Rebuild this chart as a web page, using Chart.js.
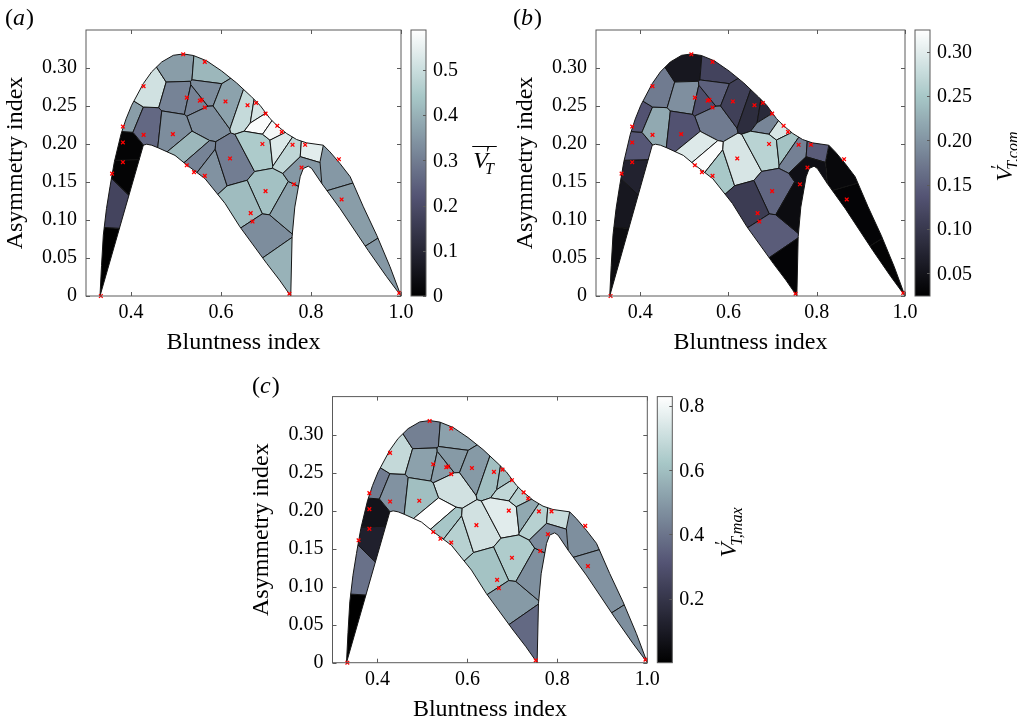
<!DOCTYPE html>
<html>
<head>
<meta charset="utf-8">
<script src="https://cdn.jsdelivr.net/npm/chart.js@4.4.0/dist/chart.umd.min.js"></script>
<style>
  body { margin: 0; background: #fff; }
  #page { position: relative; width: 1017px; height: 723px; overflow: hidden; }
  canvas { position: absolute; }
</style>
</head>
<body>
<div id="page">
  <canvas id="chartA" width="505" height="365" style="left:0px;top:0px"></canvas>
  <canvas id="chartB" width="512" height="365" style="left:505px;top:0px"></canvas>
  <canvas id="chartC" width="520" height="358" style="left:240px;top:365px"></canvas>
</div>
<script>
// red x markers (bluntness, asymmetry)
const seedX = [0.333, 0.358, 0.382, 0.382, 0.382, 0.428, 0.428, 0.493, 0.516, 0.524, 0.564, 0.553, 0.557, 0.564,
  0.524, 0.540, 0.564, 0.610, 0.620, 0.659, 0.678, 0.699, 0.725, 0.735, 0.692, 0.759, 0.787, 0.779, 0.762, 0.699,
  0.666, 0.670, 0.752, 0.862, 0.868, 0.996];
const seedY = [0.000, 0.161, 0.223, 0.202, 0.176, 0.276, 0.212, 0.213, 0.318, 0.261, 0.308, 0.257, 0.258, 0.248,
  0.172, 0.163, 0.158, 0.256, 0.181, 0.251, 0.254, 0.240, 0.224, 0.216, 0.200, 0.199, 0.199, 0.169, 0.147, 0.138,
  0.109, 0.098, 0.003, 0.180, 0.127, 0.004];

// cell centres, 0 = main body, 1 = right lobe
const cellX = [0.343, 0.352, 0.390, 0.388, 0.392, 0.433, 0.437, 0.505, 0.570, 0.507, 0.546, 0.563, 0.566, 0.495,
  0.530, 0.549, 0.575, 0.622, 0.615, 0.659, 0.680, 0.695, 0.686, 0.717, 0.734, 0.754, 0.800, 0.705, 0.649, 0.693,
  0.750, 0.790, 0.740, 0.855, 0.890, 0.975];
const cellY = [0.045, 0.135, 0.158, 0.200, 0.232, 0.222, 0.275, 0.301, 0.298, 0.263, 0.258, 0.266, 0.233, 0.218,
  0.193, 0.180, 0.168, 0.177, 0.254, 0.245, 0.243, 0.229, 0.197, 0.220, 0.200, 0.192, 0.190, 0.135, 0.120, 0.080,
  0.120, 0.170, 0.040, 0.180, 0.110, 0.030];
const cellSide = [0,0,0,0,0,0,0,0,0,0,0,0,0,0,0,0,0,0,0,0,0,0,0,0,0,0,0,0,0,0,0,0,0,1,1,1];

// cell values for each panel
const valuesA = [0.00, 0.18, 0.01, 0.01, 0.36, 0.26, 0.51, 0.36, 0.41, 0.31, 0.31, 0.33, 0.33, 0.33,
  0.41, 0.31, 0.34, 0.30, 0.37, 0.49, 0.52, 0.58, 0.45, 0.57, 0.53, 0.48, 0.54, 0.43, 0.42, 0.33,
  0.37, 0.35, 0.40, 0.35, 0.36, 0.35];
const valuesB = [0.040, 0.055, 0.070, 0.140, 0.135, 0.220, 0.175, 0.055, 0.115, 0.195, 0.130, 0.150, 0.175, 0.135,
  0.295, 0.320, 0.250, 0.290, 0.110, 0.085, 0.080, 0.185, 0.265, 0.290, 0.245, 0.180, 0.145, 0.155, 0.105, 0.145,
  0.040, 0.045, 0.030, 0.035, 0.030, 0.028];
const valuesC = [0.00, 0.39, 0.12, 0.07, 0.42, 0.48, 0.69, 0.43, 0.52, 0.52, 0.51, 0.50, 0.72, 0.60,
  null, 0.62, 0.66, 0.72, 0.50, 0.60, 0.59, 0.68, 0.76, 0.66, 0.54, 0.66, 0.70, 0.64, 0.61, 0.50,
  0.47, 0.46, 0.37, 0.47, 0.48, 0.47];

const rangeA = [0, 0.588];
const rangeB = [0.0245, 0.3245];
const rangeC = [0, 0.83];
const cbTicksA = [0, 0.1, 0.2, 0.3, 0.4, 0.5];
const cbLabelsA = ['0', '0.1', '0.2', '0.3', '0.4', '0.5'];
const cbTicksB = [0.05, 0.10, 0.15, 0.20, 0.25, 0.30];
const cbLabelsB = ['0.05', '0.10', '0.15', '0.20', '0.25', '0.30'];
const cbTicksC = [0.2, 0.4, 0.6, 0.8];
const cbLabelsC = ['0.2', '0.4', '0.6', '0.8'];

const xTicks = [0.4, 0.6, 0.8, 1.0];
const xTickLabels = ['0.4', '0.6', '0.8', '1.0'];
const yTicks = [0, 0.05, 0.10, 0.15, 0.20, 0.25, 0.30];
const yTickLabels = ['0', '0.05', '0.10', '0.15', '0.20', '0.25', '0.30'];

// domain outline
const outerLeftX = [0.3311, 0.3345, 0.3385, 0.3455, 0.3533, 0.363, 0.3778, 0.389, 0.4015, 0.4274, 0.446, 0.4682,
  0.494, 0.5163, 0.5385, 0.568, 0.6014, 0.6348, 0.6681, 0.6866, 0.7088, 0.7237, 0.7459, 0.7681, 0.7903, 0.8274];
const outerLeftY = [0, 0.04, 0.0801, 0.115, 0.1437, 0.1765, 0.2129, 0.233, 0.251, 0.2795, 0.295, 0.3079,
  0.3167, 0.3185, 0.3165, 0.3095, 0.2961, 0.2803, 0.2619, 0.251, 0.2335, 0.2247, 0.2138, 0.2059, 0.2015, 0.1984];
const outerRightX = [0.8422, 0.8644, 0.887, 0.9163, 0.946, 0.9756, 1.0];
const outerRightY = [0.1896, 0.1743, 0.157, 0.1174, 0.080, 0.0385, 0];
const lobeInnerX = [0.968, 0.927, 0.8644, 0.824];
const lobeInnerY = [0.0254, 0.060, 0.1152, 0.148];
const dividerX = [0.82];
const dividerY = [0.1765];
const notchX = [0.8015, 0.794, 0.7829, 0.776, 0.764, 0.758, 0.755];
const notchY = [0.1678, 0.1708, 0.1678, 0.157, 0.117, 0.078, 0];
const archX = [0.73, 0.7014, 0.642, 0.609, 0.5644, 0.5237, 0.4978, 0.4607, 0.446, 0.4348, 0.4274];
const archY = [0.021, 0.043, 0.091, 0.1218, 0.1545, 0.1725, 0.185, 0.1949, 0.1984, 0.1997, 0.1984];

const mainPolyX = [...outerLeftX, ...dividerX, lobeInnerX[3], ...notchX, ...archX];
const mainPolyY = [...outerLeftY, ...dividerY, lobeInnerY[3], ...notchY, ...archY];
const lobePolyX = [outerLeftX[outerLeftX.length - 1], ...outerRightX, ...lobeInnerX, ...dividerX];
const lobePolyY = [outerLeftY[outerLeftY.length - 1], ...outerRightY, ...lobeInnerY, ...dividerY];
const fullPolyX = [...outerLeftX, ...outerRightX, ...lobeInnerX, ...notchX, ...archX];
const fullPolyY = [...outerLeftY, ...outerRightY, ...lobeInnerY, ...notchY, ...archY];

const SERIF = '"Liberation Serif", "Times New Roman", serif';
const FRAME = '#5a5a5a';

function bone(t) {
  t = Math.max(0, Math.min(1, t));
  const hr = Math.min(1, t / 0.375);
  const hg = Math.max(0, Math.min(1, (t - 0.375) / 0.375));
  const hb = Math.max(0, Math.min(1, (t - 0.75) / 0.25));
  const r = (7 * t + hb) / 8, g = (7 * t + hg) / 8, b = (7 * t + hr) / 8;
  return 'rgb(' + Math.round(r * 255) + ',' + Math.round(g * 255) + ',' + Math.round(b * 255) + ')';
}

// keep the part of poly where a*x + b*y <= c
function clipHalf(poly, a, b, c) {
  const out = [];
  for (let i = 0; i < poly.length; i++) {
    const p = poly[i], q = poly[(i + 1) % poly.length];
    const fp = a * p[0] + b * p[1] - c, fq = a * q[0] + b * q[1] - c;
    if (fp <= 0) out.push(p);
    if ((fp < 0 && fq > 0) || (fp > 0 && fq < 0)) {
      const t = fp / (fp - fq);
      out.push([p[0] + t * (q[0] - p[0]), p[1] + t * (q[1] - p[1])]);
    }
  }
  return out;
}

const panels = {
  chartA: { area: {l: 86, t: 30, r: 401, b: 296}, W: 505, H: 365, values: valuesA, range: rangeA,
    cbTicks: cbTicksA, cbLabels: cbLabelsA, tag: 'a', tagX: 5, tagY: 19, yPad: 4, xPad: 10,
    cbTitle: {kind: 'bar', dx: 84, cy: 160} },
  chartB: { area: {l: 91, t: 30, r: 400, b: 296}, W: 512, H: 365, values: valuesB, range: rangeB,
    cbTicks: cbTicksB, cbLabels: cbLabelsB, tag: 'b', tagX: 8, tagY: 19, yPad: 9, xPad: 10,
    cbTitle: {kind: 'rot', sub: 'T,com', dx: 99, cy: 155} },
  chartC: { area: {l: 92.5, t: 31.6, r: 407.3, b: 297.7}, W: 520, H: 358, values: valuesC, range: rangeC,
    cbTicks: cbTicksC, cbLabels: cbLabelsC, tag: 'c', tagX: 12, tagY: 22, yPad: 10, xPad: 1,
    cbTitle: {kind: 'rot', sub: 'T,max', dx: 81, cy: 166} }
};

const cellPlugin = {
  id: 'cells',
  beforeDatasetsDraw(chart) {
    const p = panels[chart.canvas.id];
    const {ctx, chartArea: ca} = chart;
    const xs = chart.scales.x, ys = chart.scales.y;
    const tracePath = (px, py) => {
      ctx.beginPath();
      px.forEach((v, k) => {
        const X = xs.getPixelForValue(v), Y = ys.getPixelForValue(py[k]);
        if (k) ctx.lineTo(X, Y); else ctx.moveTo(X, Y);
      });
      ctx.closePath();
    };
    const gen = cellX.map((v, i) => [xs.getPixelForValue(v), ys.getPixelForValue(cellY[i])]);
    [[mainPolyX, mainPolyY], [lobePolyX, lobePolyY]].forEach(([rx, ry], side) => {
      ctx.save();
      tracePath(rx, ry);
      ctx.clip();
      gen.forEach((gi, i) => {
        if (cellSide[i] !== side) return;
        let poly = [[ca.left, ca.top], [ca.right, ca.top], [ca.right, ca.bottom], [ca.left, ca.bottom]];
        gen.forEach((gj, j) => {
          if (j === i || cellSide[j] !== side) return;
          const a = gj[0] - gi[0], b = gj[1] - gi[1];
          const c = (gj[0] * gj[0] + gj[1] * gj[1] - gi[0] * gi[0] - gi[1] * gi[1]) / 2;
          poly = clipHalf(poly, a, b, c);
        });
        if (poly.length < 3) return;
        const v = p.values[i];
        ctx.beginPath();
        poly.forEach((pt, k) => k ? ctx.lineTo(pt[0], pt[1]) : ctx.moveTo(pt[0], pt[1]));
        ctx.closePath();
        ctx.fillStyle = v === null ? '#ffffff' : bone((v - p.range[0]) / (p.range[1] - p.range[0]));
        ctx.fill();
        ctx.lineWidth = 1;
        ctx.strokeStyle = '#151515';
        ctx.stroke();
      });
      ctx.restore();
    });
    // outline and divider
    ctx.save();
    ctx.lineWidth = 1;
    ctx.strokeStyle = '#151515';
    tracePath(fullPolyX, fullPolyY);
    ctx.stroke();
    ctx.beginPath();
    ctx.moveTo(xs.getPixelForValue(outerLeftX[outerLeftX.length - 1]), ys.getPixelForValue(outerLeftY[outerLeftY.length - 1]));
    ctx.lineTo(xs.getPixelForValue(dividerX[0]), ys.getPixelForValue(dividerY[0]));
    ctx.lineTo(xs.getPixelForValue(lobeInnerX[3]), ys.getPixelForValue(lobeInnerY[3]));
    ctx.stroke();
    ctx.restore();
  },
  afterDraw(chart) {
    const p = panels[chart.canvas.id];
    const {ctx, chartArea: ca} = chart;
    const xs = chart.scales.x, ys = chart.scales.y;
    ctx.save();
    // box with inward ticks
    ctx.strokeStyle = FRAME;
    ctx.lineWidth = 1;
    ctx.strokeRect(ca.left, ca.top, ca.right - ca.left, ca.bottom - ca.top);
    ctx.beginPath();
    xTicks.forEach(v => {
      const X = Math.round(xs.getPixelForValue(v)) + 0.5;
      ctx.moveTo(X, ca.bottom); ctx.lineTo(X, ca.bottom - 4);
      ctx.moveTo(X, ca.top); ctx.lineTo(X, ca.top + 4);
    });
    yTicks.forEach(v => {
      const Y = Math.round(ys.getPixelForValue(v)) + 0.5;
      ctx.moveTo(ca.left, Y); ctx.lineTo(ca.left + 4, Y);
      ctx.moveTo(ca.right, Y); ctx.lineTo(ca.right - 4, Y);
    });
    ctx.stroke();

    // colorbar
    const cbL = ca.right + 10, cbW = 15, cbT = ca.top, cbB = ca.bottom;
    const grad = ctx.createLinearGradient(0, cbB, 0, cbT);
    for (let k = 0; k <= 40; k++) grad.addColorStop(k / 40, bone(k / 40));
    ctx.fillStyle = grad;
    ctx.fillRect(cbL, cbT, cbW, cbB - cbT);
    ctx.strokeStyle = FRAME;
    ctx.strokeRect(cbL, cbT, cbW, cbB - cbT);
    ctx.fillStyle = '#000';
    ctx.font = '20px ' + SERIF;
    ctx.textAlign = 'left';
    ctx.textBaseline = 'middle';
    ctx.beginPath();
    p.cbTicks.forEach((v, k) => {
      const Y = cbB - (v - p.range[0]) / (p.range[1] - p.range[0]) * (cbB - cbT);
      ctx.moveTo(cbL + cbW, Math.round(Y) + 0.5);
      ctx.lineTo(cbL + cbW - 3, Math.round(Y) + 0.5);
      ctx.fillText(p.cbLabels[k], cbL + cbW + 7, Y + 1);
    });
    ctx.stroke();

    // colorbar title
    const t = p.cbTitle;
    const cx = ca.right + t.dx, cy = t.cy;
    ctx.textBaseline = 'alphabetic';
    if (t.kind === 'bar') {
      ctx.font = 'italic 24px ' + SERIF;
      const wV = ctx.measureText('V').width;
      ctx.font = 'italic 16px ' + SERIF;
      const wT = ctx.measureText('T').width;
      const sx = cx - (wV + wT) / 2;
      const by = cy + 8;
      ctx.font = 'italic 24px ' + SERIF;
      ctx.fillText('V', sx, by);
      ctx.font = '18px ' + SERIF;
      ctx.fillText('\u2032', sx + wV - 2, by - 8);
      ctx.font = 'italic 16px ' + SERIF;
      ctx.fillText('T', sx + wV - 3, by + 6);
      ctx.beginPath();
      ctx.strokeStyle = '#000';
      ctx.moveTo(sx - 1, by - 21.5);
      ctx.lineTo(sx + wV + wT, by - 21.5);
      ctx.stroke();
    } else {
      ctx.translate(cx, cy);
      ctx.rotate(-Math.PI / 2);
      ctx.font = 'italic 24px ' + SERIF;
      const wV = ctx.measureText('V').width;
      ctx.font = 'italic 16px ' + SERIF;
      const wS = ctx.measureText(t.sub).width;
      const sx = -(wV + wS) / 2;
      const by = 8;
      ctx.font = 'italic 24px ' + SERIF;
      ctx.fillText('V', sx, by);
      ctx.font = '18px ' + SERIF;
      ctx.fillText('\u2032', sx + wV - 2, by - 8);
      ctx.font = 'italic 16px ' + SERIF;
      ctx.fillText(t.sub, sx + wV - 3, by + 6);
    }
    ctx.restore();

    // panel tag (a), (b), (c)
    ctx.save();
    ctx.fillStyle = '#000';
    ctx.textBaseline = 'middle';
    ctx.textAlign = 'left';
    ctx.font = '24px ' + SERIF;
    let x0 = p.tagX;
    ctx.fillText('(', x0, p.tagY);
    x0 += ctx.measureText('(').width;
    ctx.font = 'italic 24px ' + SERIF;
    ctx.fillText(p.tag, x0, p.tagY);
    x0 += ctx.measureText(p.tag).width + 1;
    ctx.font = '24px ' + SERIF;
    ctx.fillText(')', x0, p.tagY);
    ctx.restore();
  }
};

function makeChart(id) {
  const p = panels[id];
  const ctx = document.getElementById(id);
  return new Chart(ctx, {
    type: 'scatter',
    data: {
      datasets: [{
        data: seedX.map((v, i) => ({x: v, y: seedY[i]})),
        pointStyle: 'crossRot',
        pointRadius: 2.6,
        pointBorderWidth: 1.3,
        borderColor: '#ff0000',
        backgroundColor: '#ff0000',
        clip: false
      }]
    },
    options: {
      responsive: false,
      animation: false,
      events: [],
      layout: { padding: { left: 0, bottom: 0, top: p.area.t, right: p.W - p.area.r } },
      plugins: { legend: { display: false }, tooltip: { enabled: false } },
      scales: {
        x: {
          type: 'linear', min: 0.3, max: 1.0,
          grid: { display: false, drawTicks: false },
          border: { display: false },
          afterBuildTicks: axis => { axis.ticks = xTicks.map(v => ({value: v})); },
          afterFit: scale => { scale.height = p.H - p.area.b; },
          ticks: {
            autoSkip: false, maxRotation: 0, padding: 5, color: '#000',
            font: { family: SERIF, size: 20 },
            callback: (v, i) => xTickLabels[i]
          },
          title: {
            display: true, text: 'Bluntness index', color: '#000',
            font: { family: SERIF, size: 24, lineHeight: 1 },
            padding: { top: 0, bottom: p.xPad }
          }
        },
        y: {
          type: 'linear', min: 0, max: 0.35,
          grid: { display: false, drawTicks: false },
          border: { display: false },
          afterBuildTicks: axis => { axis.ticks = yTicks.map(v => ({value: v})); },
          afterFit: scale => { scale.width = p.area.l; },
          ticks: {
            autoSkip: false, padding: 9, color: '#000',
            font: { family: SERIF, size: 20 },
            callback: (v, i) => yTickLabels[i]
          },
          title: {
            display: true, text: 'Asymmetry index', color: '#000',
            font: { family: SERIF, size: 24, lineHeight: 1 },
            padding: { top: p.yPad, bottom: 0 }
          }
        }
      }
    },
    plugins: [cellPlugin]
  });
}

makeChart('chartA');
makeChart('chartB');
makeChart('chartC');
</script>
</body>
</html>
